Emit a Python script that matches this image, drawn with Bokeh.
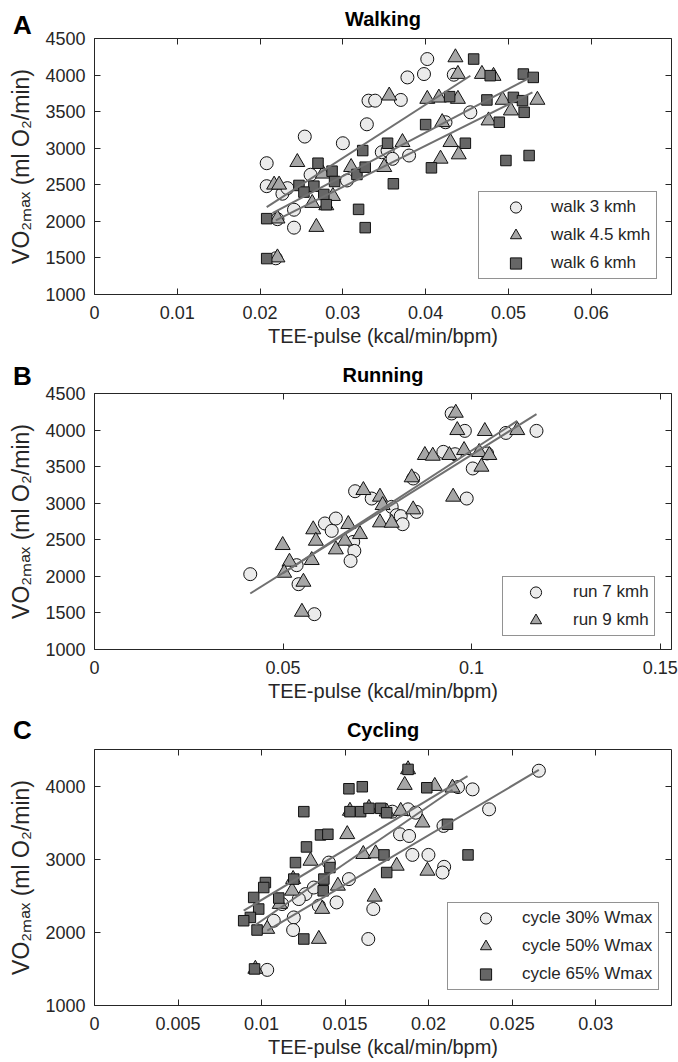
from bokeh.plotting import figure
from bokeh.layouts import column
from bokeh.models import Range1d, FixedTicker, LinearAxis, Legend, LegendItem
from bokeh.embed import file_html
from bokeh.resources import INLINE

FONT = "Liberation Sans"
AXC = "#262626"

# ---------------- Panel A: Walking ----------------
walk3_x = [0.0208, 0.0208, 0.0227, 0.0233, 0.0254, 0.0261, 0.0241, 0.0241, 0.0300, 0.0331, 0.0339,
           0.0329, 0.0305, 0.0347, 0.0402, 0.0378, 0.0398, 0.0434, 0.0370, 0.0424, 0.0454, 0.0354,
           0.0360, 0.0380, 0.0221, 0.0219]
walk3_y = [2795, 2481, 2378, 2454, 3159, 2637, 2159, 1914, 3068, 3650, 3650,
           3327, 2559, 2945, 4219, 3968, 4014, 4005, 3660, 3355, 3491, 2968,
           2855, 2900, 2030, 1495]
walk45_x = [0.0245, 0.0217, 0.0223, 0.0263, 0.0268, 0.0288, 0.0280, 0.0221, 0.0221, 0.0276, 0.0310,
            0.0436, 0.0439, 0.0468, 0.0482, 0.0356, 0.0402, 0.0416, 0.0439, 0.0493, 0.0535, 0.0420,
            0.0476, 0.0503, 0.0372, 0.0430, 0.0418, 0.0440, 0.0350]
walk45_y = [2809, 2500, 2500, 2250, 1922, 2345, 2218, 2037, 1505, 2651, 2741,
            4241, 4014, 4014, 3987, 3718, 3673, 3690, 3673, 3660, 3660, 3355,
            3378, 3514, 3082, 3082, 2855, 2914, 2741]
walk6_x = [0.0208, 0.0208, 0.0270, 0.0287, 0.0247, 0.0265, 0.0253, 0.0277, 0.0290, 0.0280, 0.0324,
           0.0317, 0.0327, 0.0319, 0.0327, 0.0458, 0.0478, 0.0518, 0.0530, 0.0429, 0.0474, 0.0506,
           0.0517, 0.0519, 0.0489, 0.0400, 0.0448, 0.0354, 0.0407, 0.0497, 0.0525, 0.0361]
walk6_y = [2037, 1491, 2795, 2686, 2491, 2481, 2400, 2368, 2545, 2228, 2968,
           2641, 2741, 2164, 1914, 4219, 3992, 4014, 3968, 3705, 3660, 3695,
           3650, 3491, 3355, 3323, 3068, 3068, 2732, 2832, 2900, 2514]
walk_fit_x = [[0.0208, 0.0454], [0.0215, 0.0525], [0.0219, 0.0529]]
walk_fit_y = [[2195, 3991], [2113, 3959], [2013, 3764]]
A_xticks = [0, 0.01, 0.02, 0.03, 0.04, 0.05, 0.06]
A_xlabels = ["0", "0.01", "0.02", "0.03", "0.04", "0.05", "0.06"]
A_yticks = [1000, 1500, 2000, 2500, 3000, 3500, 4000, 4500]
A_ylabels = ["1000", "1500", "2000", "2500", "3000", "3500", "4000", "4500"]

# ---------------- Panel B: Running ----------------
run7_x = [0.0413, 0.0536, 0.0541, 0.0583, 0.0691, 0.0735, 0.0788, 0.0801, 0.0611, 0.0640, 0.0629,
          0.0686, 0.0689, 0.0679, 0.0947, 0.0982, 0.1091, 0.1172, 0.0925, 0.0956, 0.1041, 0.1003,
          0.0987, 0.0845, 0.0854, 0.0812, 0.0817]
run7_y = [2030, 2153, 1893, 1483, 3164, 3064, 2950, 2836, 2723, 2791, 2622,
          2471, 2348, 2211, 4227, 3989, 3961, 3989, 3702, 3670, 3680, 3475,
          3064, 3338, 2881, 2823, 2713]
run9_x = [0.0713, 0.0757, 0.0764, 0.0757, 0.0788, 0.0673, 0.0704, 0.0580, 0.0587, 0.0664, 0.0640,
          0.0576, 0.0499, 0.0517, 0.0503, 0.0554, 0.0550, 0.0958, 0.0962, 0.1035, 0.1121, 0.0876,
          0.0897, 0.0941, 0.0980, 0.1020, 0.1047, 0.1026, 0.0841, 0.0951, 0.0845]
run9_y = [3178, 3087, 2973, 2736, 2731, 2713, 2576, 2641, 2485, 2485, 2367,
          2221, 2426, 2198, 2047, 1924, 1514, 4235, 3998, 3985, 3998, 3657,
          3647, 3657, 3725, 3698, 3657, 3497, 3352, 3087, 2914]
run_fit_x = [[0.0413, 0.1172], [0.0499, 0.1121]]
run_fit_y = [[1766, 4217], [2040, 4125]]
B_xticks = [0, 0.05, 0.1, 0.15]
B_xlabels = ["0", "0.05", "0.1", "0.15"]
B_yticks = A_yticks
B_ylabels = A_ylabels

# ---------------- Panel C: Cycling ----------------
cyc30_x = [0.01034, 0.01193, 0.01189, 0.01263, 0.01313, 0.01223, 0.01123, 0.01073, 0.01343, 0.02176,
           0.02263, 0.02362, 0.01877, 0.01923, 0.01783, 0.01829, 0.01883, 0.02089, 0.01903, 0.01999,
           0.02093, 0.02083, 0.01403, 0.01523, 0.01449, 0.01669, 0.01639, 0.02660]
cyc30_y = [1487, 2204, 2032, 2523, 2613, 2455, 2387, 2159, 2364, 3986,
           3955, 3682, 3682, 3636, 3650, 3341, 3318, 3455, 3059, 3059,
           2896, 2818, 2954, 2728, 2409, 2319, 1909, 4210]
cyc50_x = [0.01293, 0.01189, 0.01183, 0.01109, 0.01034, 0.00963, 0.01343, 0.01877, 0.01857, 0.02037,
           0.02143, 0.01513, 0.01963, 0.01833, 0.01529, 0.01643, 0.01749, 0.01609, 0.01683, 0.01809,
           0.01993, 0.01457, 0.01363, 0.01677]
cyc50_y = [2977, 2728, 2568, 2387, 2046, 1500, 1909, 4228, 4014, 4000,
           3977, 3341, 3500, 3659, 3660, 3700, 3650, 3069, 3078, 2909,
           2841, 2636, 2319, 2486]
cyc65_x = [0.01253, 0.01203, 0.01023, 0.01013, 0.00953, 0.00983, 0.00933, 0.00893, 0.00973, 0.01253,
           0.00958, 0.01103, 0.01193, 0.01877, 0.01523, 0.01603, 0.01989, 0.01529, 0.01593, 0.01643,
           0.01713, 0.01749, 0.01353, 0.01397, 0.01269, 0.01409, 0.01373, 0.01369, 0.01733, 0.01749,
           0.02113, 0.02236]
cyc65_y = [3650, 2954, 2681, 2613, 2477, 2319, 2204, 2159, 2032, 1909,
           1500, 2469, 2728, 4228, 3963, 3991, 3977, 3650, 3650, 3696,
           3696, 3636, 3332, 3341, 3168, 2886, 2728, 2568, 3059, 2818,
           3478, 3059]
cyc_fit_x = [[0.00893, 0.02233], [0.00963, 0.02143], [0.01034, 0.02660]]
cyc_fit_y = [[2296, 4136], [2100, 3950], [2023, 4220]]
C_xticks = [0, 0.005, 0.01, 0.015, 0.02, 0.025, 0.03]
C_xlabels = ["0", "0.005", "0.01", "0.015", "0.02", "0.025", "0.03"]
C_yticks = [1000, 2000, 3000, 4000]
C_ylabels = ["1000", "2000", "3000", "4000"]

panel_titles = ["Walking", "Running", "Cycling"]
panel_letters = ["A", "B", "C"]
x_label = "TEE-pulse (kcal/min/bpm)"
y_label = "VO\u2082\u2098\u2090\u2093 (ml O\u2082/min)"

# ---------------- styles ----------------
STY = {
    "circle": dict(marker="circle", size=13, fill_color="#ebebeb"),
    "triangle": dict(marker="triangle", size=15, fill_color="#a6a6a6"),
    "square": dict(marker="square", size=10.5, fill_color="#666666"),
}
W = 678
PANEL_H = 354
FRAME_LEFT = 94
FRAME_RIGHT_PAD = 7
NBSP = "\u00a0"


def make_panel(letter, title, xmax, yr, xt, xl, yt, yl, series, fits, top, bottom,
               letter_standoff, title_standoff, leg_loc, glyph_w, standoff, label_w):
    p = figure(width=W, height=PANEL_H, x_range=Range1d(0, xmax), y_range=Range1d(*yr), title=None,
               output_backend="svg", toolbar_location=None,
               min_border_left=FRAME_LEFT, min_border_right=FRAME_RIGHT_PAD,
               min_border_top=top, min_border_bottom=bottom)
    p.grid.visible = False
    p.outline_line_color = None
    p.background_fill_color = "white"
    p.border_fill_color = "white"

    xa = p.xaxis[0]
    xa.ticker = FixedTicker(ticks=xt)
    xa.major_label_overrides = {t: s for t, s in zip(xt, xl)}
    ya = p.yaxis[0]
    ya.ticker = FixedTicker(ticks=yt)
    ya.major_label_overrides = {t: s for t, s in zip(yt, yl)}
    for ax in (xa, ya):
        ax.major_tick_in = 6
        ax.major_tick_out = 0
        ax.minor_tick_line_color = None
        ax.axis_line_color = AXC
        ax.major_tick_line_color = AXC
        ax.major_label_text_font = FONT
        ax.major_label_text_font_size = "18px"
        ax.major_label_text_color = AXC
        ax.axis_label_text_font = FONT
        ax.axis_label_text_font_style = "normal"
        ax.axis_label_text_color = AXC
    xa.major_label_standoff = 11
    ya.major_label_standoff = 9
    xa.axis_label = x_label
    xa.axis_label_text_font_size = "20px"
    xa.axis_label_standoff = 3
    ya.axis_label = y_label
    ya.axis_label_text_font_size = "23px"
    ya.axis_label_standoff = 8

    # top axis: inward ticks, panel letter at its left end, panel title as its label
    top_labels = {t: "" for t in xt}
    top_labels[xt[0]] = letter + NBSP * 20
    tax = LinearAxis(ticker=FixedTicker(ticks=xt), major_label_overrides=top_labels,
                     major_label_text_font=FONT, major_label_text_font_size="26px",
                     major_label_text_font_style="bold", major_label_text_color="black",
                     major_label_standoff=letter_standoff,
                     major_tick_in=6, major_tick_out=0, minor_tick_line_color=None,
                     axis_line_color=AXC, major_tick_line_color=AXC,
                     axis_label=title, axis_label_text_font=FONT, axis_label_text_font_size="20px",
                     axis_label_text_font_style="bold", axis_label_text_color="black",
                     axis_label_standoff=title_standoff)
    p.add_layout(tax, "above")

    rax = LinearAxis(ticker=FixedTicker(ticks=yt),
                     major_label_overrides={t: "" for t in yt},
                     major_label_text_font_size="0px", major_label_standoff=0,
                     major_tick_in=6, major_tick_out=0, minor_tick_line_color=None,
                     axis_line_color=AXC, major_tick_line_color=AXC)
    p.add_layout(rax, "right")

    items = []
    for name, kind, xs, ys in series:
        r = p.scatter(xs, ys, line_color="#111111", line_width=1, **STY[kind])
        items.append(LegendItem(label=name, renderers=[r]))
    for fx, fy in fits:
        p.line(fx, fy, line_color="#707070", line_width=2)

    leg = Legend(items=items, location=leg_loc, padding=1, spacing=-6, margin=0,
                 glyph_height=28, glyph_width=glyph_w, label_standoff=standoff,
                 label_width=label_w, label_height=20,
                 label_text_font=FONT, label_text_font_size="17px", label_text_color=AXC,
                 border_line_color=AXC, border_line_width=1,
                 background_fill_color="white", background_fill_alpha=1.0)
    p.add_layout(leg)
    return p


pA = make_panel(panel_letters[0], panel_titles[0], 0.0697, (1000, 4500), A_xticks, A_xlabels,
                A_yticks, A_ylabels,
                [("walk 3 kmh", "circle", walk3_x, walk3_y),
                 ("walk 4.5 kmh", "triangle", walk45_x, walk45_y),
                 ("walk 6 kmh", "square", walk6_x, walk6_y)],
                list(zip(walk_fit_x, walk_fit_y)), 38, 60, -1, -23, (384, 15), 71, 0, 104)
pB = make_panel(panel_letters[1], panel_titles[1], 0.153, (1000, 4500), B_xticks, B_xlabels,
                B_yticks, B_ylabels,
                [("run 7 kmh", "circle", run7_x, run7_y),
                 ("run 9 kmh", "triangle", run9_x, run9_y)],
                list(zip(run_fit_x, run_fit_y)), 39, 59, 3, -28, (408, 13), 63, 6, 80)
pC = make_panel(panel_letters[2], panel_titles[2], 0.03454, (1000, 4500), C_xticks, C_xlabels,
                C_yticks, C_ylabels,
                [("cycle 30% Wmax", "circle", cyc30_x, cyc30_y),
                 ("cycle 50% Wmax", "triangle", cyc50_x, cyc50_y),
                 ("cycle 65% Wmax", "square", cyc65_x, cyc65_y)],
                list(zip(cyc_fit_x, cyc_fit_y)), 41, 57, 5, -29, (353, 15), 73, -5, 135)

layout = column(pA, pB, pC, spacing=0)
open("out.html", "w").write(file_html(layout, INLINE))
